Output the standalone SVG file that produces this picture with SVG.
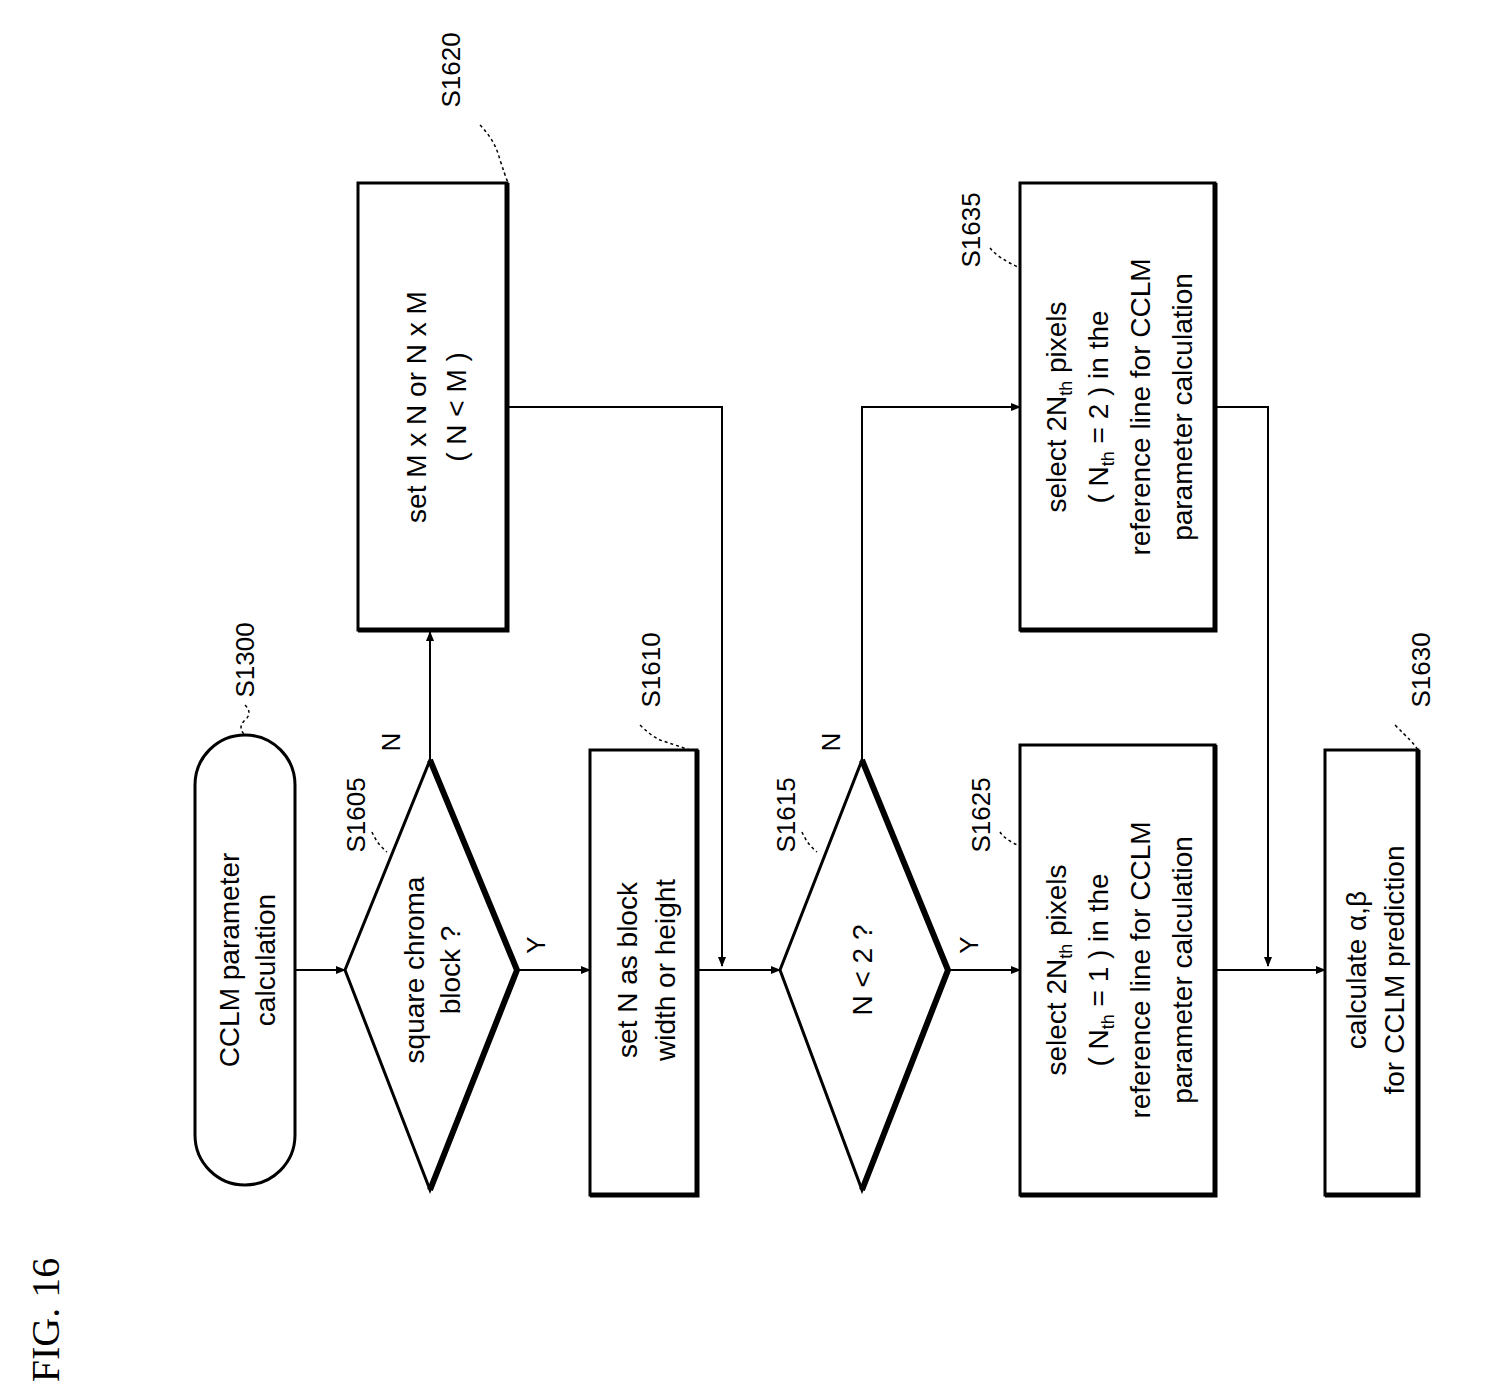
<svg xmlns="http://www.w3.org/2000/svg" width="1500" height="1399" viewBox="0 0 1500 1399">
<defs>
<marker id="a" markerWidth="10" markerHeight="8" refX="9" refY="4" orient="auto" markerUnits="userSpaceOnUse"><path d="M0,0 L10,4 L0,8 z" fill="#000"/></marker>
<style>
.s{fill:#fff;stroke:#000;stroke-width:3}
.t{font-family:"Liberation Sans",Arial,sans-serif;font-size:28px;text-anchor:middle;fill:#000}
.l{font-family:"Liberation Sans",Arial,sans-serif;font-size:26px;text-anchor:middle;fill:#000}
.c{fill:none;stroke:#000;stroke-width:2}
.d{fill:none;stroke:#000;stroke-width:1.5;stroke-dasharray:3 3}
</style>
</defs>
<text x="50" y="1320" transform="rotate(-90 50 1320)" style="font-family:'Liberation Serif',serif;font-size:40px" text-anchor="middle" dominant-baseline="middle">FIG. 16</text>
<g id="connectors">
<line class="c" x1="295" y1="970" x2="345" y2="970" marker-end="url(#a)"/>
<line class="c" x1="430" y1="760" x2="430" y2="632" marker-end="url(#a)"/>
<line class="c" x1="517" y1="970" x2="590" y2="970" marker-end="url(#a)"/>
<polyline class="c" points="507,407 722,407 722,966" marker-end="url(#a)"/>
<line class="c" x1="697" y1="970" x2="780" y2="970" marker-end="url(#a)"/>
<polyline class="c" points="862,760 862,407 1020,407" marker-end="url(#a)"/>
<line class="c" x1="948" y1="970" x2="1020" y2="970" marker-end="url(#a)"/>
<polyline class="c" points="1215,407 1268,407 1268,966" marker-end="url(#a)"/>
<line class="c" x1="1215" y1="970" x2="1325" y2="970" marker-end="url(#a)"/>
<text class="l" x="400" y="742" transform="rotate(-90 400 742)">N</text>
<text class="l" x="545" y="945" transform="rotate(-90 545 945)">Y</text>
<text class="l" x="840" y="742" transform="rotate(-90 840 742)">N</text>
<text class="l" x="978" y="945" transform="rotate(-90 978 945)">Y</text>
</g>
<g id="S1300">
<rect class="s" x="195" y="735" width="100" height="450" rx="50"/>
<text class="t" transform="translate(245 960) rotate(-90)"><tspan x="0" y="-6">CCLM parameter</tspan><tspan x="0" dy="36">calculation</tspan></text>
<text class="l" x="254" y="660" transform="rotate(-90 254 660)">S1300</text>
<path class="d" d="M245,705 q8,8 0,15 q-8,8 0,15"/>
</g>
<g id="S1605">
<polygon class="s" points="345,970 430,760 517,970 430,1190"/>
<polyline points="430,760 517,970 430,1190" fill="none" stroke="#000" stroke-width="6"/>
<text class="t" transform="translate(430 970) rotate(-90)"><tspan x="0" y="-6">square chroma</tspan><tspan x="0" dy="36">block ?</tspan></text>
<text class="l" x="365" y="815" transform="rotate(-90 365 815)">S1605</text>
<path class="d" d="M372,832 q5,12 15,20"/>
</g>
<g id="S1620">
<rect class="s" x="358" y="183" width="149" height="447"/>
<polyline points="507,183 507,630 358,630" fill="none" stroke="#000" stroke-width="5"/>
<text class="t" transform="translate(432 407) rotate(-90)"><tspan x="0" y="-6">set M x N or N x M</tspan><tspan x="0" dy="40">( N &lt; M )</tspan></text>
<text class="l" x="460" y="70" transform="rotate(-90 460 70)">S1620</text>
<path class="d" d="M480,125 q15,15 20,35 q5,15 8,23"/>
</g>
<g id="S1610">
<rect class="s" x="590" y="750" width="107" height="445"/>
<polyline points="697,750 697,1195 590,1195" fill="none" stroke="#000" stroke-width="5"/>
<text class="t" transform="translate(643 970) rotate(-90)"><tspan x="0" y="-6">set N as block</tspan><tspan x="0" dy="38">width or height</tspan></text>
<text class="l" x="660" y="670" transform="rotate(-90 660 670)">S1610</text>
<path class="d" d="M640,725 q10,10 20,15 q15,5 30,10"/>
</g>
<g id="S1615">
<polygon class="s" points="780,970 862,760 948,970 862,1190"/>
<polyline points="862,760 948,970 862,1190" fill="none" stroke="#000" stroke-width="6"/>
<text class="t" x="872" y="970" transform="rotate(-90 872 970)">N &lt; 2 ?</text>
<text class="l" x="795" y="815" transform="rotate(-90 795 815)">S1615</text>
<path class="d" d="M802,832 q5,12 15,20"/>
</g>
<g id="S1625">
<rect class="s" x="1020" y="745" width="195" height="450"/>
<polyline points="1215,745 1215,1195 1020,1195" fill="none" stroke="#000" stroke-width="5"/>
<text class="t" transform="translate(1118 970) rotate(-90)"><tspan x="0" y="-52">select 2N<tspan font-size="18" dy="6">th</tspan><tspan dy="-6"> pixels</tspan></tspan><tspan x="0" y="-10">( N<tspan font-size="18" dy="6">th</tspan><tspan dy="-6"> = 1 ) in the</tspan></tspan><tspan x="0" y="32">reference line for CCLM</tspan><tspan x="0" y="74">parameter calculation</tspan></text>
<text class="l" x="990" y="815" transform="rotate(-90 990 815)">S1625</text>
<path class="d" d="M1000,832 q5,8 20,14"/>
</g>
<g id="S1635">
<rect class="s" x="1020" y="183" width="195" height="447"/>
<polyline points="1215,183 1215,630 1020,630" fill="none" stroke="#000" stroke-width="5"/>
<text class="t" transform="translate(1118 407) rotate(-90)"><tspan x="0" y="-52">select 2N<tspan font-size="18" dy="6">th</tspan><tspan dy="-6"> pixels</tspan></tspan><tspan x="0" y="-10">( N<tspan font-size="18" dy="6">th</tspan><tspan dy="-6"> = 2 ) in the</tspan></tspan><tspan x="0" y="32">reference line for CCLM</tspan><tspan x="0" y="74">parameter calculation</tspan></text>
<text class="l" x="980" y="230" transform="rotate(-90 980 230)">S1635</text>
<path class="d" d="M990,248 q8,10 30,20"/>
</g>
<g id="S1630">
<rect class="s" x="1325" y="750" width="93" height="445"/>
<polyline points="1418,750 1418,1195 1325,1195" fill="none" stroke="#000" stroke-width="5"/>
<text class="t" transform="translate(1372 970) rotate(-90)"><tspan x="0" y="-6">calculate α,β</tspan><tspan x="0" dy="38">for CCLM prediction</tspan></text>
<text class="l" x="1430" y="670" transform="rotate(-90 1430 670)">S1630</text>
<path class="d" d="M1395,725 q10,10 15,15 q5,5 8,10"/>
</g>
</svg>
